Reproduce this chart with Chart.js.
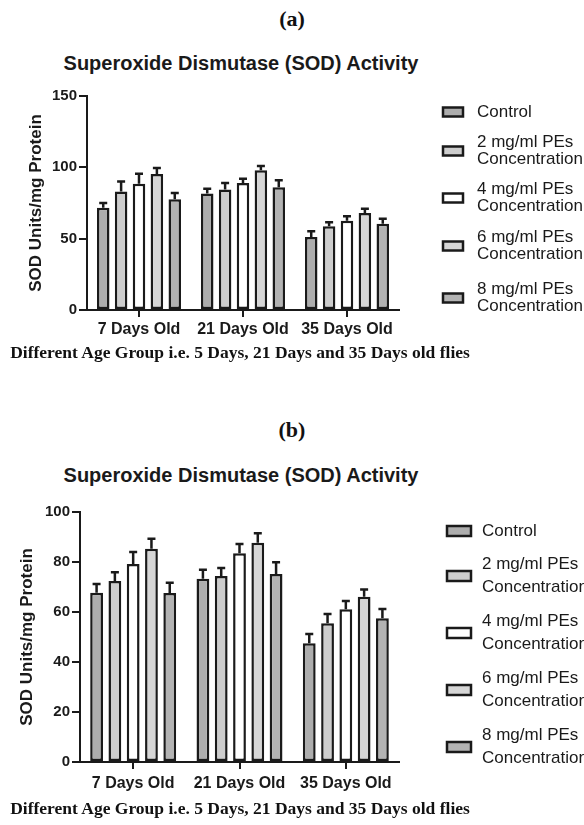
<!DOCTYPE html>
<html>
<head>
<meta charset="utf-8">
<script src="https://cdn.jsdelivr.net/npm/chart.js@4.4.1/dist/chart.umd.min.js"></script>
<style>
  body { margin: 0; background: #fff; width: 584px; height: 825px; position: relative; overflow: hidden; }
  .tag { position: absolute; left: 0; width: 584px; text-align: center; font: bold 22px "Liberation Serif", "Times New Roman", serif; color: #111; line-height: 26px; }
  .head { position: absolute; left: 0; width: 482px; text-align: center; font: bold 20px "Liberation Sans", Arial, sans-serif; color: #1a1a1a; line-height: 24px; white-space: nowrap; }
  .sub { position: absolute; left: 0; width: 480px; text-align: center; font: bold 17.5px "Liberation Serif", "Times New Roman", serif; color: #111; line-height: 22px; white-space: nowrap; }
  .panel { position: absolute; left: 0; width: 584px; }
</style>
</head>
<body>
<div class="tag" style="top:6px">(a)</div>
<div class="head" id="headA" style="top:51px"></div>
<div class="panel" style="top:40px;height:330px"><canvas id="chartA"></canvas></div>
<div class="sub" id="subA" style="top:341px"></div>
<div class="tag" style="top:417px">(b)</div>
<div class="head" id="headB" style="top:463px"></div>
<div class="panel" style="top:440px;height:385px"><canvas id="chartB"></canvas></div>
<div class="sub" id="subB" style="top:797px"></div>
<script>
  const ageGroups = ['7 Days Old', '21 Days Old', '35 Days Old'];
  const seriesNames = ['Control', '2 mg/ml PEs\nConcentration', '4 mg/ml PEs\nConcentration', '6 mg/ml PEs\nConcentration', '8 mg/ml PEs\nConcentration'];
  const seriesColors = ['#adadad', '#cdcdcd', '#ffffff', '#d6d6d6', '#b3b3b3'];
  const chartTitle = 'Superoxide Dismutase (SOD) Activity';
  const yTitle = 'SOD Units/mg Protein';
  const xTitle = 'Different Age Group i.e. 5 Days, 21 Days and 35 Days old flies';

  // panel (a)
  const yTicksA = [0, 50, 100, 150];
  const controlA = [71.6, 81.7, 51.2];
  const pe2A = [83, 84.5, 58.7];
  const pe4A = [88.5, 89, 62.5];
  const pe6A = [95.3, 98, 68];
  const pe8A = [77.7, 86, 60.5];
  const controlErrA = [3.4, 3.3, 4];
  const pe2ErrA = [7, 4.5, 2.8];
  const pe4ErrA = [7, 3, 3.2];
  const pe6ErrA = [4.2, 3, 3];
  const pe8ErrA = [4.3, 5, 3.5];

  // panel (b)
  const yTicksB = [0, 20, 40, 60, 80, 100];
  const controlB = [67.7, 73.3, 47.5];
  const pe2B = [72.4, 74.4, 55.5];
  const pe4B = [79.2, 83.5, 61.1];
  const pe6B = [85.3, 87.7, 66.1];
  const pe8B = [67.6, 75.2, 57.5];
  const controlErrB = [3.5, 3.6, 3.7];
  const pe2ErrB = [3.5, 3.2, 3.7];
  const pe4ErrB = [4.8, 3.7, 3.3];
  const pe6ErrB = [4, 3.8, 2.9];
  const pe8ErrB = [4.1, 4.7, 3.7];

  ['headA', 'headB'].forEach(id => { document.getElementById(id).textContent = chartTitle; });
  ['subA', 'subB'].forEach(id => { document.getElementById(id).textContent = xTitle; });

  const ink = '#1a1a1a';
  const sans = '"Liberation Sans", Arial, sans-serif';

  // upper-only error bars with caps
  const errorBars = {
    id: 'errorBars',
    afterDatasetsDraw(chart) {
      const ctx = chart.ctx;
      const y = chart.scales.y;
      ctx.save();
      ctx.strokeStyle = ink;
      ctx.lineWidth = 2.5;
      chart.data.datasets.forEach((ds, i) => {
        chart.getDatasetMeta(i).data.forEach((bar, j) => {
          const top = y.getPixelForValue(ds.data[j] + ds.errors[j]);
          ctx.beginPath();
          ctx.moveTo(bar.x, bar.y);
          ctx.lineTo(bar.x, top);
          ctx.moveTo(bar.x - 4, top);
          ctx.lineTo(bar.x + 4, top);
          ctx.stroke();
        });
      });
      ctx.restore();
    }
  };

  // legend on the right, box centred on the (one or two line) label
  const sideLegend = {
    id: 'sideLegend',
    afterDraw(chart, args, opts) {
      const ctx = chart.ctx;
      ctx.save();
      ctx.font = '17px ' + sans;
      ctx.textBaseline = 'middle';
      chart.data.datasets.forEach((ds, i) => {
        const cy = opts.centers[i];
        ctx.fillStyle = ds.backgroundColor;
        ctx.strokeStyle = ink;
        ctx.lineWidth = 2.5;
        ctx.fillRect(opts.boxX, cy - opts.boxH / 2, opts.boxW, opts.boxH);
        ctx.strokeRect(opts.boxX, cy - opts.boxH / 2, opts.boxW, opts.boxH);
        ctx.fillStyle = ink;
        const lines = ds.label.split('\n');
        lines.forEach((t, k) => {
          ctx.fillText(t, opts.textX, cy + (k - (lines.length - 1) / 2) * opts.lineGap);
        });
      });
      ctx.restore();
    }
  };

  function makeChart(id, p) {
    return new Chart(id, {
      type: 'bar',
      data: {
        labels: ageGroups,
        datasets: p.values.map((v, i) => ({
          label: seriesNames[i],
          data: v,
          errors: p.errors[i],
          backgroundColor: seriesColors[i],
          borderColor: ink,
          borderWidth: 2.5,
          borderSkipped: false,
          categoryPercentage: 0.86,
          barPercentage: 0.7
        }))
      },
      plugins: [errorBars, sideLegend],
      options: {
        responsive: true,
        maintainAspectRatio: false,
        animation: false,
        events: [],
        layout: { padding: { left: 0, right: 185, top: p.top, bottom: 0 } },
        plugins: {
          legend: { display: false },
          tooltip: { enabled: false },
          sideLegend: p.legend
        },
        scales: {
          x: {
            offset: true,
            grid: { drawOnChartArea: false, drawTicks: true, tickLength: 7, offset: false, color: ink, lineWidth: 2 },
            border: { display: true, color: ink, width: 2 },
            ticks: { color: ink, padding: p.xTickPad, maxRotation: 0, font: { family: sans, size: 16, weight: 'bold' } },
            afterFit: s => { s.height = p.xHeight; }
          },
          y: {
            min: 0,
            max: p.yTicks[p.yTicks.length - 1],
            afterBuildTicks: s => { s.ticks = p.yTicks.map(v => ({ value: v })); },
            grid: { drawOnChartArea: false, drawTicks: true, tickLength: 8, color: ink, lineWidth: 2 },
            border: { display: true, color: ink, width: 2 },
            ticks: { color: ink, padding: 2, font: { family: sans, size: 15, weight: 'bold' } },
            title: {
              display: true,
              text: yTitle,
              color: ink,
              font: { family: sans, size: 17, weight: 'bold' },
              padding: { top: p.yTitleLeft, bottom: 0 }
            },
            afterFit: s => { s.width = p.yWidth; }
          }
        }
      }
    });
  }

  makeChart('chartA', {
    values: [controlA, pe2A, pe4A, pe6A, pe8A],
    errors: [controlErrA, pe2ErrA, pe4ErrA, pe6ErrA, pe8ErrA],
    yTicks: yTicksA,
    top: 56,
    xHeight: 60,
    xTickPad: 3,
    yWidth: 87,
    yTitleLeft: 26,
    legend: { boxX: 443, boxW: 20, boxH: 9, textX: 477, lineGap: 17.5, centers: [72, 111, 158, 206, 258] }
  });

  makeChart('chartB', {
    values: [controlB, pe2B, pe4B, pe6B, pe8B],
    errors: [controlErrB, pe2ErrB, pe4ErrB, pe6ErrB, pe8ErrB],
    yTicks: yTicksB,
    top: 72,
    xHeight: 63,
    xTickPad: 5,
    yWidth: 80,
    yTitleLeft: 17,
    legend: { boxX: 447, boxW: 24, boxH: 10, textX: 482, lineGap: 23, centers: [91, 136, 193, 250, 307] }
  });
</script>
</body>
</html>
